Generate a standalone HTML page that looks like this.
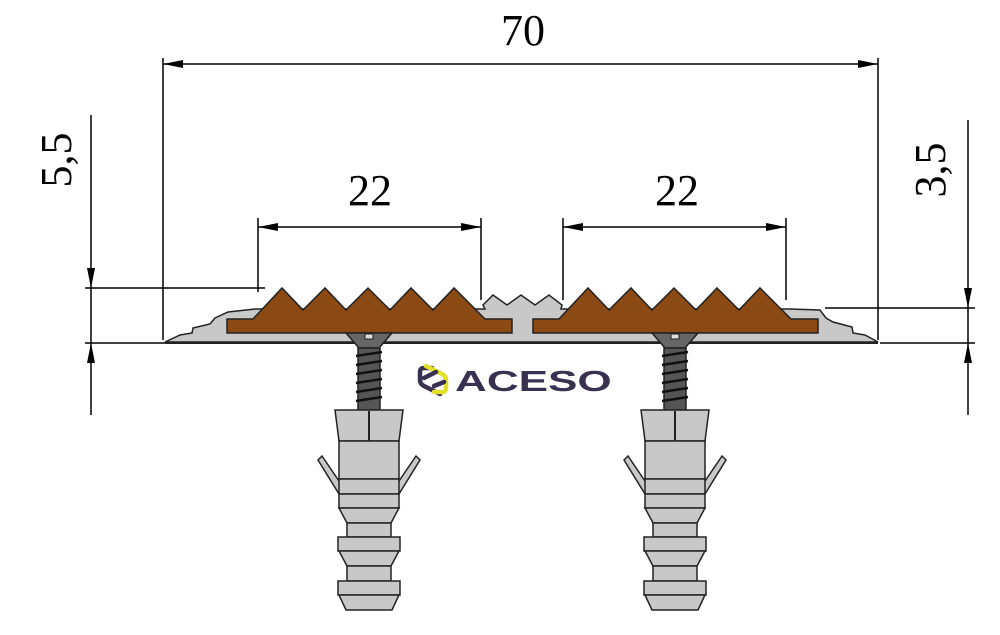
<!DOCTYPE html>
<html><head><meta charset="utf-8"><style>
html,body{margin:0;padding:0;background:#fff;width:1000px;height:635px;overflow:hidden}
svg{display:block}
text{font-family:"Liberation Serif",serif;fill:#000}
</style></head><body>
<svg width="1000" height="635" viewBox="0 0 1000 635" xmlns="http://www.w3.org/2000/svg">
<defs>
<g id="anchor">
 <polygon points="-23,333 23,333 10,348 -10,348" fill="#666" stroke="#222" stroke-width="1.5"/>
 <rect x="-4" y="334" width="8" height="5" fill="#ddd" stroke="#222" stroke-width="1"/>
 <rect x="-11" y="348" width="22" height="62" fill="#555" stroke="#222" stroke-width="1.5"/>
 <g stroke="#111" stroke-width="2.5">
  <line x1="-13" y1="356" x2="13" y2="352"/><line x1="-13" y1="365" x2="13" y2="361"/>
  <line x1="-13" y1="374" x2="13" y2="370"/><line x1="-13" y1="383" x2="13" y2="379"/>
  <line x1="-13" y1="392" x2="13" y2="388"/><line x1="-13" y1="401" x2="13" y2="397"/>
 </g>
 <polygon points="-51,460 -47,456 -28,484 -30,494" fill="#c8c8c8" stroke="#222" stroke-width="1.5"/>
 <polygon points="51,460 47,456 28,484 30,494" fill="#c8c8c8" stroke="#222" stroke-width="1.5"/>
 <g fill="#c8c8c8" stroke="#222" stroke-width="1.5">
  <polygon points="-34,410 34,410 30,441 -30,441"/>
  <rect x="-30" y="441" width="60" height="38"/>
  <rect x="-30" y="479" width="60" height="15"/>
  <rect x="-30" y="494" width="60" height="14"/>
  <polygon points="-30,508 30,508 22,523 -22,523"/>
  <rect x="-22" y="523" width="44" height="14"/>
  <rect x="-31" y="537" width="62" height="14"/>
  <polygon points="-30,551 30,551 22,566 -22,566"/>
  <rect x="-22" y="566" width="44" height="15"/>
  <rect x="-31" y="581" width="62" height="14"/>
  <polygon points="-30,595 30,595 23,610 -23,610"/>
 </g>
 <line x1="0" y1="411" x2="0" y2="441" stroke="#222" stroke-width="2"/>
</g>
<marker id="ar" viewBox="0 0 20 8" refX="20" refY="4" markerWidth="20" markerHeight="8" markerUnits="userSpaceOnUse" orient="auto-start-reverse"><path d="M0,0 L20,4 L0,8 z" fill="#000"/></marker>
</defs>

<line x1="163" y1="58" x2="163" y2="340" stroke="#000" stroke-width="1.5"/>
<line x1="878" y1="58" x2="878" y2="340" stroke="#000" stroke-width="1.5"/>
<line x1="163" y1="64" x2="878" y2="64" stroke="#000" stroke-width="1.5" marker-start="url(#ar)" marker-end="url(#ar)"/>
<text x="523" y="45" font-size="44" text-anchor="middle">70</text>

<line x1="258" y1="218" x2="258" y2="292" stroke="#000" stroke-width="1.5"/>
<line x1="481" y1="218" x2="481" y2="300" stroke="#000" stroke-width="1.5"/>
<line x1="258" y1="227" x2="481" y2="227" stroke="#000" stroke-width="1.5" marker-start="url(#ar)" marker-end="url(#ar)"/>
<text x="370" y="205" font-size="44" text-anchor="middle">22</text>
<line x1="563" y1="218" x2="563" y2="300" stroke="#000" stroke-width="1.5"/>
<line x1="786" y1="218" x2="786" y2="300" stroke="#000" stroke-width="1.5"/>
<line x1="563" y1="227" x2="786" y2="227" stroke="#000" stroke-width="1.5" marker-start="url(#ar)" marker-end="url(#ar)"/>
<text x="677" y="205" font-size="44" text-anchor="middle">22</text>

<line x1="91" y1="115" x2="91" y2="288" stroke="#000" stroke-width="1.5" marker-end="url(#ar)"/>
<line x1="91" y1="288" x2="91" y2="343" stroke="#000" stroke-width="1.5"/>
<line x1="91" y1="415" x2="91" y2="343" stroke="#000" stroke-width="1.5" marker-end="url(#ar)"/>
<line x1="85" y1="288" x2="265" y2="288" stroke="#000" stroke-width="1.5"/>
<line x1="85" y1="343" x2="165" y2="343" stroke="#000" stroke-width="1.5"/>
<text transform="translate(71,160) rotate(-90)" font-size="44" text-anchor="middle">5,5</text>

<line x1="968" y1="120" x2="968" y2="308" stroke="#000" stroke-width="1.5" marker-end="url(#ar)"/>
<line x1="968" y1="308" x2="968" y2="343" stroke="#000" stroke-width="1.5"/>
<line x1="968" y1="415" x2="968" y2="343" stroke="#000" stroke-width="1.5" marker-end="url(#ar)"/>
<line x1="825" y1="308" x2="975" y2="308" stroke="#000" stroke-width="1.5"/>
<line x1="880" y1="343" x2="975" y2="343" stroke="#000" stroke-width="1.5"/>
<text transform="translate(945,170) rotate(-90)" font-size="44" text-anchor="middle">3,5</text>

<polygon fill="#c8c8c8" stroke="#222" stroke-width="1.5" points="165,342 180,335 192,333 193,328 210,324 215,318 228,312 255,309 485,309 483,305 493,295 507,305 521,295 535,305 549,295 562,305 561,309 790,309 820,310 826,318 833,322 852,327 853,333 865,335 878,342"/>
<line x1="165" y1="343" x2="878" y2="343" stroke="#222" stroke-width="2"/>

<polygon fill="#8b4a14" stroke="#222" stroke-width="1.5" points="227,319 253,319 282,288 303,310 325,288 346,310 368,288 390,310 411,288 433,310 454,288 485,319 512,319 512,333 227,333"/>
<polygon fill="#8b4a14" stroke="#222" stroke-width="1.5" points="533,319 559,319 588,288 609,310 631,288 652,310 674,288 696,310 717,288 739,310 760,288 791,319 818,319 818,333 533,333"/>

<use href="#anchor" x="369" y="0"/>
<use href="#anchor" x="675" y="0"/>

<g fill="none" stroke-width="4.5" stroke-linecap="round" stroke-linejoin="round">
 <path d="M432,368 L424,368 Q420,368 420,372 L420,380 Q420,384 424,386 L440,394" stroke="#3a3050"/>
 <path d="M426,366 L442,374 Q446,376 446,380 L446,388 Q446,392 442,392 L434,392" stroke="#e3e02a"/>
 <path d="M424,378 L436,372 M434,386 L444,382" stroke="#3a3050"/>
</g>
<text x="0" y="0" transform="translate(455,391) scale(1.52,1)" font-weight="bold" font-size="29" style="fill:#3a3050;font-family:'Liberation Sans',sans-serif">ACESO</text>
</svg>
</body></html>
